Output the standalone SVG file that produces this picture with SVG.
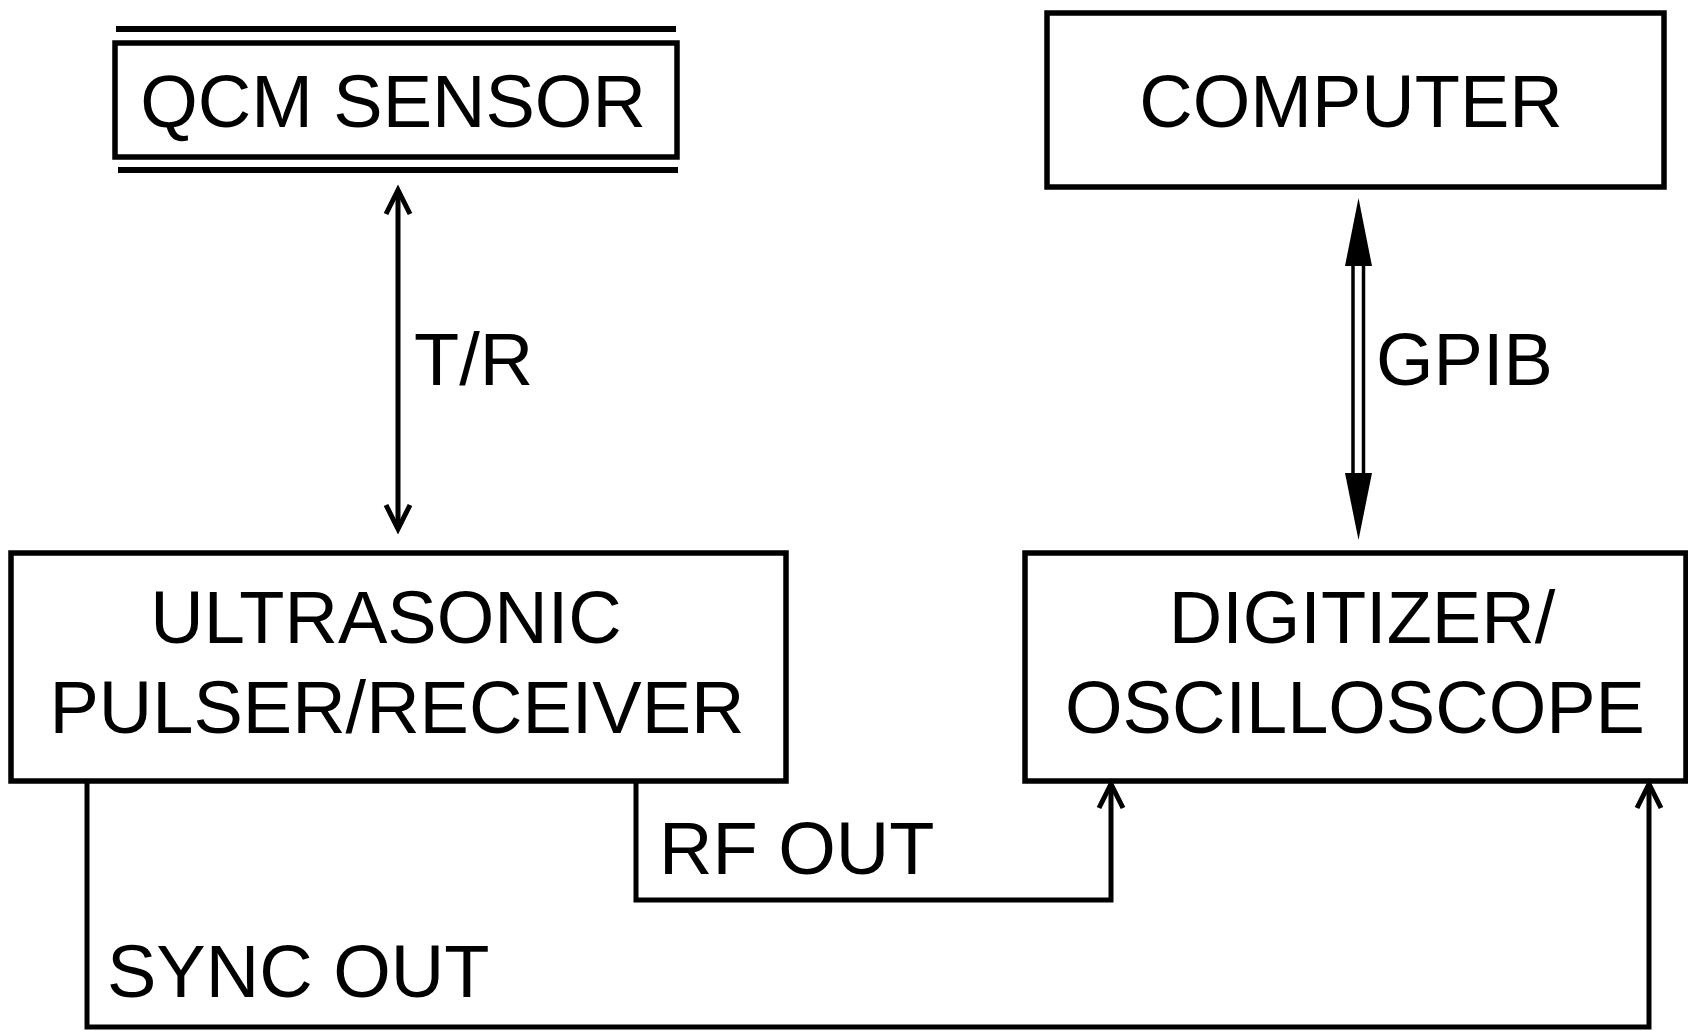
<svg xmlns="http://www.w3.org/2000/svg" width="1688" height="1031" viewBox="0 0 1688 1031">
<style>
.box{fill:#fff;stroke:#000;stroke-width:5.5}
.bar{stroke:#000;stroke-width:6}
.t{font-family:"Liberation Sans",Arial,sans-serif;font-size:74px;fill:#000}
.c{text-anchor:middle}
.ln{fill:none;stroke:#000;stroke-width:5;stroke-linejoin:miter}
</style>
<defs>
<marker id="open" markerUnits="userSpaceOnUse" viewBox="-32 -18 38 36" markerWidth="38" markerHeight="36" refX="0" refY="0" orient="auto-start-reverse">
<path d="M-24,-12 L0,0 L-24,12" fill="none" stroke="#000" stroke-width="5"/>
</marker>
</defs>
<rect width="1688" height="1031" fill="#fff"/>
<g id="qcm">
<line class="bar" x1="116" y1="29" x2="676" y2="29"/>
<rect class="box" x="115" y="43" width="562" height="114"/>
<line class="bar" x1="118" y1="170" x2="678" y2="170"/>
<text class="t c" x="393" y="127">QCM SENSOR</text>
</g>
<g id="computer">
<rect class="box" x="1047" y="13" width="617" height="174"/>
<text class="t c" x="1351" y="127">COMPUTER</text>
</g>
<g id="pulser">
<rect class="box" x="11" y="553" width="775" height="228"/>
<text class="t c" x="386" y="643">ULTRASONIC</text>
<text class="t c" x="397" y="733">PULSER/RECEIVER</text>
</g>
<g id="digitizer">
<rect class="box" x="1025" y="553" width="661" height="228"/>
<text class="t c" x="1362" y="643">DIGITIZER/</text>
<text class="t c" x="1355" y="733">OSCILLOSCOPE</text>
</g>
<g id="connectors">
<line class="ln" x1="398" y1="190" x2="398" y2="529" marker-start="url(#open)" marker-end="url(#open)"/>
<text class="t" x="414" y="385">T/R</text>
<line x1="1353" y1="262" x2="1353" y2="477" stroke="#000" stroke-width="3.5"/>
<line x1="1363.5" y1="262" x2="1363.5" y2="477" stroke="#000" stroke-width="3.5"/>
<polygon points="1358.5,198 1345,266 1372,266" fill="#000"/>
<polygon points="1358.5,540 1345,473 1372,473" fill="#000"/>
<text class="t" x="1376" y="385">GPIB</text>
<polyline class="ln" points="636,781 636,900 1111,900 1111,784" marker-end="url(#open)"/>
<text class="t" x="659" y="874">RF OUT</text>
<polyline class="ln" points="87,781 87,1027 1649,1027 1649,784" marker-end="url(#open)"/>
<text class="t" x="107" y="997">SYNC OUT</text>
</g>
</svg>
